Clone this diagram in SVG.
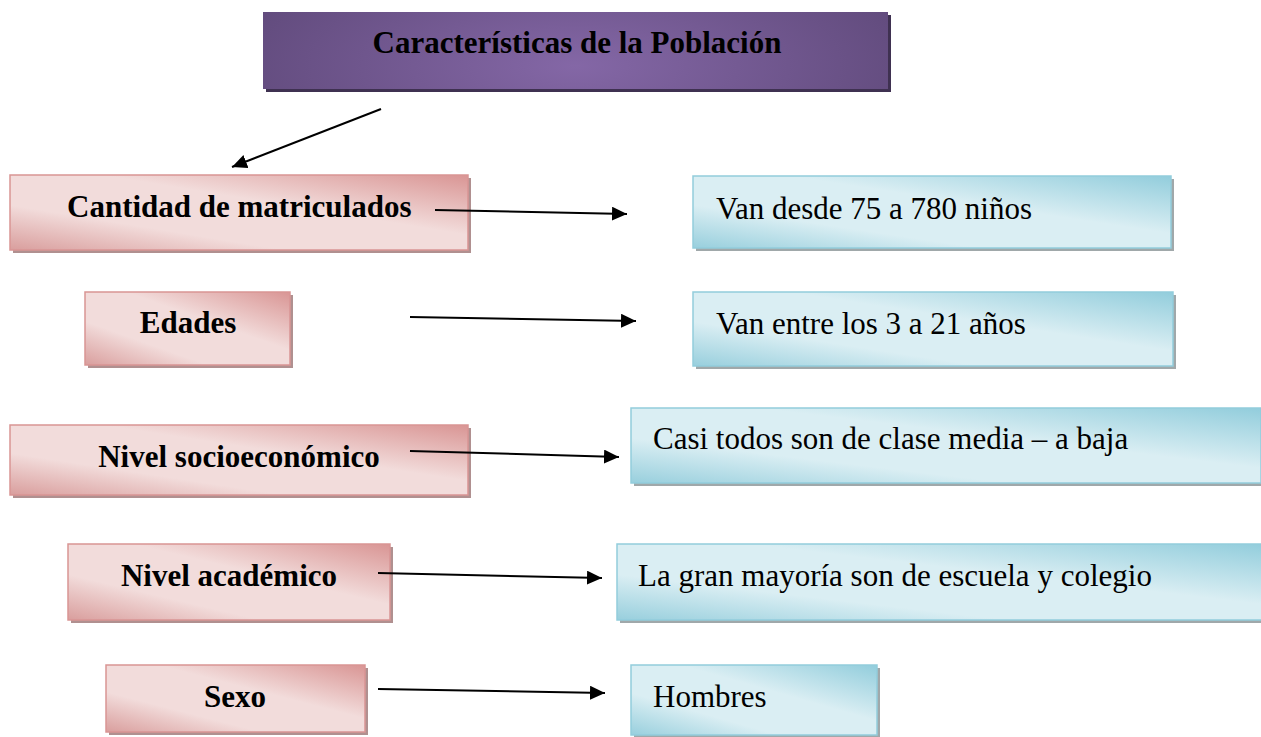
<svg xmlns="http://www.w3.org/2000/svg" width="1261" height="737" viewBox="0 0 1261 737">
<defs>
<linearGradient id="pink" x1="1" y1="0" x2="0" y2="1">
<stop offset="0" stop-color="#d99594"/>
<stop offset="0.4" stop-color="#f2dcdb"/>
<stop offset="0.7" stop-color="#f2dcdb"/>
<stop offset="1" stop-color="#d99e9d"/>
</linearGradient>
<linearGradient id="blue" x1="1" y1="0" x2="0" y2="1">
<stop offset="0" stop-color="#92cddc"/>
<stop offset="0.4" stop-color="#daeef3"/>
<stop offset="0.7" stop-color="#daeef3"/>
<stop offset="1" stop-color="#98cfdd"/>
</linearGradient>
<radialGradient id="purple" cx="0.5" cy="0.7" r="0.6" gradientTransform="translate(0.5 0.7) scale(1 3) translate(-0.5 -0.7)">
<stop offset="0" stop-color="#8467a6"/>
<stop offset="1" stop-color="#5f497a"/>
</radialGradient>
<marker id="arr" viewBox="0 0 15 14" refX="15" refY="7" markerWidth="15" markerHeight="14" markerUnits="userSpaceOnUse" orient="auto">
<path d="M0,0 L15,7 L0,14 z" fill="#000"/>
</marker>
</defs>
<style>
.pk{fill:url(#pink);stroke:#d99594;stroke-width:1.5}
.bl{fill:url(#blue);stroke:#92cddc;stroke-width:1.5}
.pks{fill:#b09090}
.bls{fill:#a0a8aa}
.b{font-family:"Liberation Serif","DejaVu Serif",serif;font-weight:bold;font-size:31px;fill:#000}
.r{font-family:"Liberation Serif","DejaVu Serif",serif;font-size:31px;fill:#000}
.c{stroke:#000;stroke-width:2;fill:none;marker-end:url(#arr)}
</style>
<rect width="1261" height="737" fill="#fff"/>
<g id="title">
<rect x="266" y="15" width="625" height="77" fill="#3f3151"/>
<rect x="263" y="12" width="625" height="77" fill="url(#purple)"/>
<text x="577" y="53" class="b" text-anchor="middle" font-size="30">Características de la Población</text>
</g>
<g id="n1">
<rect x="13" y="178" width="458" height="75" class="pks"/>
<rect x="10" y="175" width="458" height="75" class="pk"/>
<text x="67" y="217" class="b">Cantidad de matriculados</text>
</g>
<g id="v1">
<rect x="696" y="179" width="478" height="72" class="bls"/>
<rect x="693" y="176" width="478" height="72" class="bl"/>
<text x="716" y="219" class="r">Van desde 75 a 780 niños</text>
</g>
<g id="n2">
<rect x="88" y="295" width="205" height="73" class="pks"/>
<rect x="85" y="292" width="205" height="73" class="pk"/>
<text x="188" y="333" class="b" text-anchor="middle">Edades</text>
</g>
<g id="v2">
<rect x="696" y="295" width="480" height="74" class="bls"/>
<rect x="693" y="292" width="480" height="74" class="bl"/>
<text x="716" y="334" class="r">Van entre los 3 a 21 años</text>
</g>
<g id="n3">
<rect x="13" y="428" width="458" height="70" class="pks"/>
<rect x="10" y="425" width="458" height="70" class="pk"/>
<text x="239" y="467" class="b" text-anchor="middle">Nivel socioeconómico</text>
</g>
<g id="v3">
<rect x="634" y="411" width="630" height="75" class="bls"/>
<rect x="631" y="408" width="630" height="75" class="bl"/>
<text x="653" y="449" class="r">Casi todos son de clase media – a baja</text>
</g>
<g id="n4">
<rect x="71" y="547" width="322" height="76" class="pks"/>
<rect x="68" y="544" width="322" height="76" class="pk"/>
<text x="229" y="586" class="b" text-anchor="middle">Nivel académico</text>
</g>
<g id="v4">
<rect x="620" y="547" width="650" height="76" class="bls"/>
<rect x="617" y="544" width="650" height="76" class="bl"/>
<text x="638" y="586" class="r">La gran mayoría son de escuela y colegio</text>
</g>
<g id="n5">
<rect x="109" y="668" width="259" height="67" class="pks"/>
<rect x="106" y="665" width="259" height="67" class="pk"/>
<text x="235" y="707" class="b" text-anchor="middle">Sexo</text>
</g>
<g id="v5">
<rect x="634" y="668" width="246" height="70" class="bls"/>
<rect x="631" y="665" width="246" height="70" class="bl"/>
<text x="653" y="707" class="r">Hombres</text>
</g>
<g id="connectors">
<line x1="381" y1="109" x2="232" y2="167" class="c"/>
<line x1="435" y1="210" x2="627" y2="214" class="c"/>
<line x1="410" y1="317" x2="636" y2="321" class="c"/>
<line x1="410" y1="451" x2="619" y2="457" class="c"/>
<line x1="378" y1="573" x2="602" y2="578" class="c"/>
<line x1="378" y1="689" x2="605" y2="693" class="c"/>
</g>
</svg>
